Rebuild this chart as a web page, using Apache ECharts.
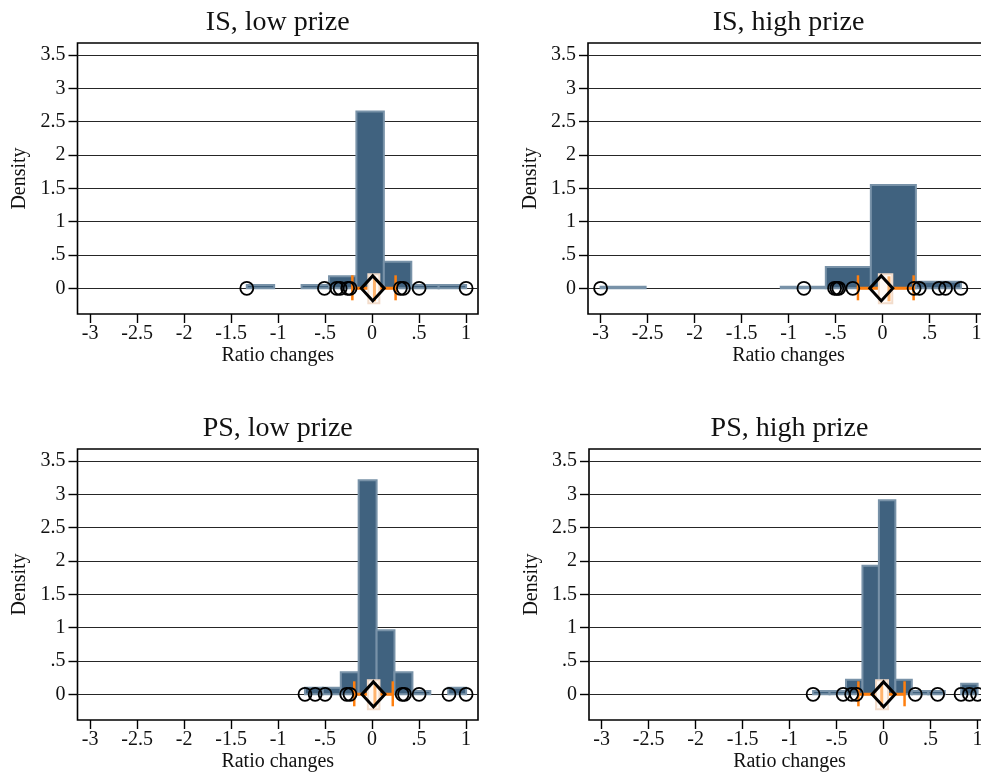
<!DOCTYPE html>
<html>
<head>
<meta charset="utf-8">
<script src="https://cdn.jsdelivr.net/npm/echarts@6/dist/echarts.min.js"></script>
<style>
  html, body { margin: 0; padding: 0; background: #ffffff; }
  #chart { width: 981px; height: 776px; }
</style>
</head>
<body>
<div id="chart"></div>
<script>
// Axis ticks shared by all four panels
const xTickValues = [-3, -2.5, -2, -1.5, -1, -0.5, 0, 0.5, 1];
const yTickValues = [0, 0.5, 1, 1.5, 2, 2.5, 3, 3.5];
const panelTitles = ['IS, low prize', 'IS, high prize', 'PS, low prize', 'PS, high prize'];
const xAxisTitle = 'Ratio changes';
const yAxisTitle = 'Density';

// IS, low prize
const isLowEdges = [-1.333, -1.042, -0.75, -0.458, -0.167, 0.125, 0.417, 0.708, 1.0];
const isLowDensity = [0.05, 0, 0.05, 0.18, 2.65, 0.40, 0.05, 0.05];
const isLowOutliers = [-1.333, -0.507, -0.376, -0.34, -0.26, -0.234, 0.30, 0.333, 0.5, 1.0];
const isLowBox = [-0.21, -0.04, 0.025, 0.077, 0.25]; // lower whisker, q1, median, q3, upper whisker
const isLowMean = 0.007;

// IS, high prize
const isHighEdges = [-3.0, -2.521, -2.042, -1.562, -1.083, -0.604, -0.125, 0.354, 0.833];
const isHighDensity = [0.025, 0, 0, 0, 0.025, 0.32, 1.55, 0.10];
const isHighOutliers = [-3.0, -0.837, -0.511, -0.487, -0.466, -0.317, 0.335, 0.39, 0.60, 0.67, 0.833];
const isHighBox = [-0.262, -0.04, 0.068, 0.103, 0.33];
const isHighMean = -0.014;

// PS, low prize
const psLowEdges = [-0.714, -0.524, -0.333, -0.143, 0.048, 0.238, 0.429, 0.619, 0.810, 1.0];
const psLowDensity = [0.10, 0.10, 0.33, 3.21, 0.96, 0.33, 0.05, 0, 0.10];
const psLowOutliers = [-0.714, -0.606, -0.5, -0.27, -0.235, 0.32, 0.345, 0.5, 0.818, 1.0];
const psLowBox = [-0.19, -0.045, 0.03, 0.078, 0.22];
const psLowMean = 0.014;

// PS, high prize
const psHighEdges = [-0.75, -0.575, -0.4, -0.225, -0.05, 0.125, 0.3, 0.475, 0.65, 0.825, 1.0];
const psHighDensity = [0.05, 0.05, 0.22, 1.93, 2.91, 0.22, 0.05, 0.05, 0, 0.16];
const psHighOutliers = [-0.75, -0.43, -0.34, -0.29, 0.337, 0.575, 0.824, 0.913, 1.0];
const psHighBox = [-0.268, -0.08, -0.02, 0.047, 0.223];
const psHighMean = 0.0;

const panels = [
  { edges: isLowEdges, density: isLowDensity, outliers: isLowOutliers, box: isLowBox, mean: isLowMean },
  { edges: isHighEdges, density: isHighDensity, outliers: isHighOutliers, box: isHighBox, mean: isHighMean },
  { edges: psLowEdges, density: psLowDensity, outliers: psLowOutliers, box: psLowBox, mean: psLowMean },
  { edges: psHighEdges, density: psHighDensity, outliers: psHighOutliers, box: psHighBox, mean: psHighMean }
];

// Layout of the 2x2 plot regions (pixels)
const gridBoxes = [
  { left: 77.5, top: 43, width: 400.5, height: 271 },
  { left: 588, top: 43, width: 401, height: 271 },
  { left: 77.5, top: 449, width: 400.5, height: 271 },
  { left: 589, top: 449, width: 401, height: 271 }
];
const PX_PER_X = 94;
const PX_PER_Y = 66.67;
const X_LEFT_PAD = 12.6;      // pixels between the frame and the -3 tick
const Y_BOTTOM_PAD = 25.7;    // pixels between the frame and the 0 line

const FONT = '"Liberation Serif", "Times New Roman", Times, serif';
const BAR_FILL = '#40627f';
const BAR_EDGE = '#7892a8';
const ORANGE = '#ff7f0e';

function tickText(v) {
  if (v === 0) return '0';
  const s = String(Math.abs(v)).replace(/^0\./, '.');
  return (v < 0 ? '-' : '') + s;
}

const grids = [], xAxes = [], yAxes = [], series = [], graphics = [];

panels.forEach((p, i) => {
  const g = gridBoxes[i];
  grids.push({
    left: g.left, top: g.top, width: g.width, height: g.height,
    show: true, borderColor: '#000', borderWidth: 1.6, backgroundColor: 'transparent',
    outerBoundsMode: 'none'
  });
  const xMin = -3 - X_LEFT_PAD / PX_PER_X;
  const yMin = -Y_BOTTOM_PAD / PX_PER_Y;
  xAxes.push({
    type: 'value', gridIndex: i, min: xMin, max: xMin + g.width / PX_PER_X,
    position: 'bottom',
    axisLine: { show: false, onZero: false },
    splitLine: { show: false },
    axisTick: { show: true, customValues: xTickValues, length: 9, lineStyle: { color: '#000', width: 1.4 } },
    axisLabel: {
      customValues: xTickValues, formatter: tickText, margin: 10,
      fontFamily: FONT, fontSize: 20, color: '#111'
    }
  });
  yAxes.push({
    type: 'value', gridIndex: i, min: yMin, max: yMin + g.height / PX_PER_Y,
    position: 'left',
    axisLine: { show: false, onZero: false },
    splitLine: { show: false },
    axisTick: { show: true, customValues: yTickValues, length: 9, lineStyle: { color: '#000', width: 1.4 } },
    axisLabel: {
      customValues: yTickValues, formatter: tickText, margin: 12,
      fontFamily: FONT, fontSize: 20, color: '#111'
    }
  });

  // horizontal reference lines, kept beneath the bars
  series.push({
    type: 'line', xAxisIndex: i, yAxisIndex: i, data: [], z: 1, silent: true,
    markLine: {
      z: 1, silent: true, symbol: ['none', 'none'], animation: false,
      label: { show: false },
      lineStyle: { type: 'solid', color: '#262626', width: 1.2 },
      data: yTickValues.map(v => ({ yAxis: v }))
    }
  });

  // histogram bars
  const bins = p.density.map((d, k) => [p.edges[k], p.edges[k + 1], d]);
  series.push({
    type: 'custom', xAxisIndex: i, yAxisIndex: i, z: 2, silent: true, clip: true,
    dimensions: ['from', 'to', 'density'],
    encode: { x: [0, 1], y: 2 },
    data: bins,
    renderItem: function (params, api) {
      const h = api.value(2);
      if (h <= 0) return null;
      const a = api.coord([api.value(0), 0]);
      const b = api.coord([api.value(1), h]);
      return {
        type: 'rect',
        shape: { x: a[0], y: b[1], width: b[0] - a[0], height: a[1] - b[1] },
        style: { fill: BAR_FILL, stroke: BAR_EDGE, lineWidth: 2 }
      };
    }
  });

  // box with whiskers along the zero line
  series.push({
    type: 'custom', xAxisIndex: i, yAxisIndex: i, z: 3, silent: true,
    dimensions: ['lo', 'q1', 'med', 'q3', 'hi'],
    encode: { x: [0, 4] },
    data: [p.box],
    renderItem: function (params, api) {
      const lo = api.coord([api.value(0), 0]);
      const q1 = api.coord([api.value(1), 0]);
      const md = api.coord([api.value(2), 0]);
      const q3 = api.coord([api.value(3), 0]);
      const hi = api.coord([api.value(4), 0]);
      const y = lo[1];
      return {
        type: 'group',
        children: [
          { type: 'line', shape: { x1: lo[0], y1: y, x2: hi[0], y2: y }, style: { stroke: ORANGE, lineWidth: 3 } },
          { type: 'line', shape: { x1: lo[0], y1: y - 13, x2: lo[0], y2: y + 12 }, style: { stroke: ORANGE, lineWidth: 2.5 } },
          { type: 'line', shape: { x1: hi[0], y1: y - 13, x2: hi[0], y2: y + 12 }, style: { stroke: ORANGE, lineWidth: 2.5 } },
          { type: 'rect', shape: { x: q1[0], y: y - 14, width: q3[0] - q1[0], height: 29 },
            style: { fill: '#fffaf6', stroke: '#f2dccb', lineWidth: 2 } },
          { type: 'line', shape: { x1: md[0], y1: y - 12, x2: md[0], y2: y + 13 },
            style: { stroke: '#ffa24d', lineWidth: 3, opacity: 0.8 } }
        ]
      };
    }
  });

  // outlying observations
  series.push({
    type: 'scatter', xAxisIndex: i, yAxisIndex: i, z: 4, silent: true,
    symbol: 'circle', symbolSize: 13,
    itemStyle: { color: 'rgba(255,255,255,0)', borderColor: '#000', borderWidth: 1.8, opacity: 1 },
    data: p.outliers.map(v => [v, 0])
  });

  // mean marker
  series.push({
    type: 'scatter', xAxisIndex: i, yAxisIndex: i, z: 5, silent: true,
    symbol: 'diamond', symbolSize: [23, 25],
    itemStyle: { color: 'rgba(255,255,255,0)', borderColor: '#000', borderWidth: 3, opacity: 1 },
    data: [[p.mean, 0]]
  });

  // panel title and axis names
  const cx = g.left + g.width / 2;
  graphics.push({
    type: 'text', x: cx, y: g.top - 20,
    style: { text: panelTitles[i], font: '28px ' + FONT, fill: '#111', align: 'center', verticalAlign: 'middle' }
  });
  graphics.push({
    type: 'text', x: cx, y: g.top + g.height + 42,
    style: { text: xAxisTitle, font: '20px ' + FONT, fill: '#111', align: 'center', verticalAlign: 'middle' }
  });
  graphics.push({
    type: 'text', x: g.left - 57.5, y: g.top + g.height / 2, rotation: Math.PI / 2,
    style: { text: yAxisTitle, font: '20px ' + FONT, fill: '#111', align: 'center', verticalAlign: 'middle' }
  });
});

const chart = echarts.init(document.getElementById('chart'), null, { renderer: 'canvas' });
chart.setOption({
  animation: false,
  backgroundColor: '#ffffff',
  grid: grids,
  xAxis: xAxes,
  yAxis: yAxes,
  series: series,
  graphic: graphics
});
</script>
</body>
</html>
